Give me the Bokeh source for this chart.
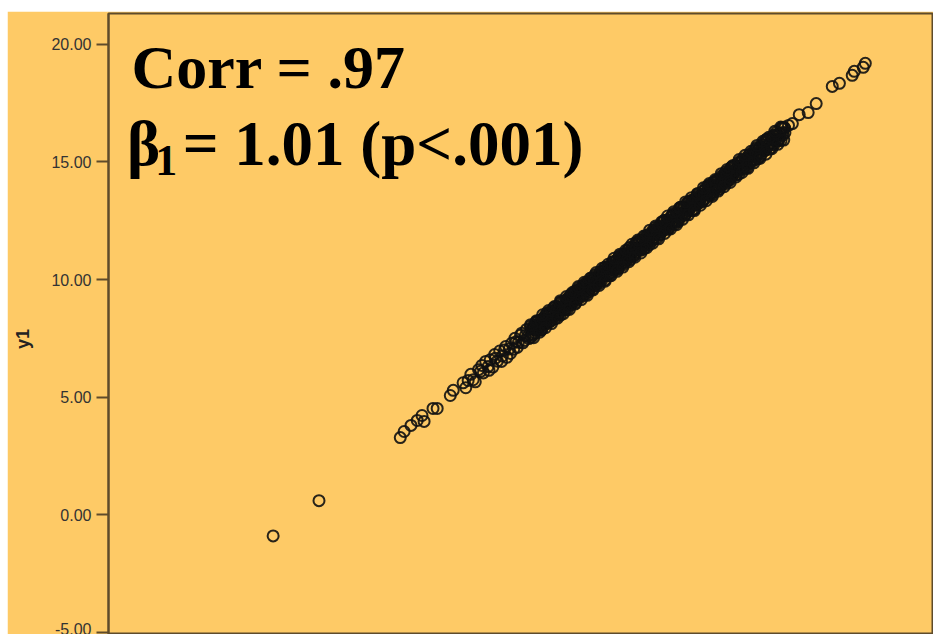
from bokeh.plotting import figure
from bokeh.models import Label, FixedTicker, NumeralTickFormatter, ColumnDataSource
from bokeh.embed import file_html
from bokeh.resources import INLINE

# predictor values (x1) and responses (y1): tails plus the first pass over the core
x_main = [
    -0.89, 0.65,
    3.38, 3.51, 3.74, 3.95, 4.11, 4.18, 4.48, 4.62, 5.06, 5.16,
    5.49, 5.58, 5.66, 5.75, 5.83, 5.90, 6.01, 6.08, 6.17, 6.25, 6.33, 6.40, 6.49, 6.57,
    6.64, 6.72, 6.81, 6.88, 6.96, 7.04, 7.12, 7.19, 7.27, 7.35, 7.42, 7.50, 7.58, 7.66,
    7.75, 7.80, 7.85, 7.90, 7.95, 8.00, 8.05, 8.10, 8.15, 8.20, 8.25, 8.30, 8.35, 8.40,
    8.45, 8.50, 8.55, 8.60, 8.65, 8.70, 8.75, 8.80, 8.85, 8.90, 8.95, 9.00, 9.05, 9.10,
    9.15, 9.20, 9.25, 9.30, 9.35, 9.40, 9.45, 9.50, 9.55, 9.60, 9.65, 9.70, 9.75, 9.80,
    9.85, 9.90, 9.95, 10.00, 10.05, 10.10, 10.15, 10.20, 10.25, 10.30, 10.35, 10.40,
    10.45, 10.50, 10.55, 10.60, 10.65, 10.70, 10.75, 10.80, 10.85, 10.90, 10.95, 11.00,
    11.05, 11.10, 11.15, 11.20, 11.25, 11.30, 11.35, 11.40, 11.45, 11.50, 11.55, 11.60,
    11.65, 11.70, 11.75, 11.80, 11.85, 11.90, 11.95, 12.00, 12.05, 12.10, 12.15, 12.20,
    12.25, 12.30, 12.35, 12.40, 12.45, 12.50, 12.55, 12.60, 12.65, 12.70, 12.75, 12.80,
    12.85, 12.90, 12.95, 13.00, 13.05, 13.10, 13.15, 13.20, 13.25, 13.30, 13.35, 13.40,
    13.45, 13.50, 13.55, 13.60, 13.65, 13.70, 13.75, 13.80, 13.85, 13.90, 13.95, 14.00,
    14.05, 14.10, 14.15, 14.20, 14.25, 14.30, 14.35, 14.40, 14.45, 14.50, 14.55, 14.60,
    14.65, 14.70, 14.75, 14.80, 14.85, 14.90, 14.95, 15.00,
    15.06, 15.12, 15.20, 15.25, 15.33, 15.40, 15.46, 15.55, 15.61, 15.70, 15.78, 15.84,
    15.93, 16.02, 16.10, 16.21, 16.30, 16.42,
    16.55, 16.78, 17.08, 17.35, 17.89, 18.13, 18.56, 18.63, 18.93, 19.00,
]
y_main = [
    -0.90, 0.60,
    3.28, 3.54, 3.80, 4.01, 4.22, 3.97, 4.52, 4.52, 5.07, 5.29,
    5.61, 5.40, 5.71, 5.97, 5.74, 5.65, 6.17, 6.10, 6.03, 6.52, 6.30, 6.59, 6.28, 6.65,
    6.53, 6.96, 6.75, 7.01, 6.69, 7.05, 7.29, 7.04, 7.36, 7.33, 7.63, 7.31, 7.62, 7.58,
    8.01, 7.68, 7.97, 7.72, 8.00, 8.22, 7.96, 7.85, 8.31, 8.22, 8.11, 8.57, 8.32, 8.59,
    8.24, 8.58, 8.44, 8.84, 8.59, 8.83, 8.48, 8.81, 9.02, 8.75, 9.04, 8.98, 9.26, 8.91,
    9.19, 9.12, 9.51, 9.18, 9.47, 9.22, 9.50, 9.72, 9.46, 9.35, 9.81, 9.72, 9.61, 10.07,
    9.82, 10.09, 9.74, 10.08, 9.94, 10.34, 10.09, 10.33, 9.98, 10.31, 10.52, 10.25,
    10.54, 10.48, 10.76, 10.41, 10.69, 10.62, 11.01, 10.68, 10.97, 10.72, 11.00, 11.22,
    10.96, 10.85, 11.31, 11.22, 11.11, 11.57, 11.32, 11.59, 11.24, 11.58, 11.44, 11.84,
    11.59, 11.83, 11.48, 11.81, 12.02, 11.75, 12.04, 11.98, 12.26, 11.91, 12.19, 12.12,
    12.51, 12.18, 12.47, 12.22, 12.50, 12.72, 12.46, 12.35, 12.81, 12.72, 12.61, 13.07,
    12.82, 13.09, 12.74, 13.08, 12.94, 13.34, 13.09, 13.33, 12.98, 13.31, 13.52, 13.25,
    13.54, 13.48, 13.76, 13.41, 13.69, 13.62, 14.01, 13.68, 13.97, 13.72, 14.00, 14.22,
    13.96, 13.85, 14.31, 14.22, 14.11, 14.57, 14.32, 14.59, 14.24, 14.58, 14.44, 14.84,
    14.59, 14.83, 14.48, 14.81, 15.02, 14.75, 15.04, 14.98,
    15.18, 14.94, 15.25, 15.47, 15.24, 15.15, 15.62, 15.57, 15.47, 15.97, 15.75, 16.03,
    15.72, 16.10, 15.99, 16.45, 16.24, 16.55,
    16.63, 17.01, 17.10, 17.48, 18.21, 18.34, 18.68, 18.85, 19.02, 19.19,
]

# extra cases in the lower, thinner stretch of the band
x_lower = [6.12, 6.36, 6.55, 6.78, 6.92, 7.08, 7.23, 7.31, 7.46, 7.55, 7.62, 7.70]
y_lower = [6.35, 6.14, 6.81, 6.52, 7.15, 6.86, 7.50, 7.12, 7.72, 7.41, 7.88, 7.49]

# second pass over the dense core
x_core_a = [
    7.77, 7.82, 7.87, 7.92, 7.97, 8.02, 8.07, 8.12, 8.17, 8.22, 8.27, 8.32, 8.37, 8.42,
    8.47, 8.52, 8.57, 8.62, 8.67, 8.72, 8.77, 8.82, 8.87, 8.92, 8.97, 9.02, 9.07, 9.12,
    9.17, 9.22, 9.27, 9.32, 9.37, 9.42, 9.47, 9.52, 9.57, 9.62, 9.67, 9.72, 9.77, 9.82,
    9.87, 9.92, 9.97, 10.02, 10.07, 10.12, 10.17, 10.22, 10.27, 10.32, 10.37, 10.42,
    10.47, 10.52, 10.57, 10.62, 10.67, 10.72, 10.77, 10.82, 10.87, 10.92, 10.97, 11.02,
    11.07, 11.12, 11.17, 11.22, 11.27, 11.32, 11.37, 11.42, 11.47, 11.52, 11.57, 11.62,
    11.67, 11.72, 11.77, 11.82, 11.87, 11.92, 11.97, 12.02, 12.07, 12.12, 12.17, 12.22,
    12.27, 12.32, 12.37, 12.42, 12.47, 12.52, 12.57, 12.62, 12.67, 12.72, 12.77, 12.82,
    12.87, 12.92, 12.97, 13.02, 13.07, 13.12, 13.17, 13.22, 13.27, 13.32, 13.37, 13.42,
    13.47, 13.52, 13.57, 13.62, 13.67, 13.72, 13.77, 13.82, 13.87, 13.92, 13.97, 14.02,
    14.07, 14.12, 14.17, 14.22, 14.27, 14.32, 14.37, 14.42, 14.47, 14.52, 14.57, 14.62,
    14.67, 14.72, 14.77, 14.82, 14.87, 14.92, 14.97, 15.02, 15.07, 15.12, 15.17, 15.22,
    15.27, 15.32, 15.37, 15.42, 15.47, 15.52, 15.57, 15.62, 15.67, 15.72, 15.77, 15.82,
    15.87, 15.92, 15.97, 16.02, 16.07, 16.12, 16.17, 16.22, 16.27,
]
y_core_a = [
    7.55, 7.89, 8.05, 7.88, 8.22, 7.86, 8.17, 7.86, 8.20, 8.42, 8.17, 8.46, 8.18, 8.65,
    8.46, 8.63, 8.33, 8.68, 8.83, 8.59, 9.05, 8.75, 8.87, 8.70, 9.04, 9.20, 9.03, 9.37,
    9.01, 9.32, 9.01, 9.35, 9.57, 9.32, 9.61, 9.33, 9.80, 9.61, 9.78, 9.48, 9.83, 9.98,
    9.74, 10.20, 9.90, 10.02, 9.85, 10.19, 10.35, 10.18, 10.52, 10.16, 10.47, 10.16,
    10.50, 10.72, 10.47, 10.76, 10.48, 10.95, 10.76, 10.93, 10.63, 10.98, 11.13, 10.89,
    11.35, 11.05, 11.17, 11.00, 11.34, 11.50, 11.33, 11.67, 11.31, 11.62, 11.31, 11.65,
    11.87, 11.62, 11.91, 11.63, 12.10, 11.91, 12.08, 11.78, 12.13, 12.28, 12.04, 12.50,
    12.20, 12.32, 12.15, 12.49, 12.65, 12.48, 12.82, 12.46, 12.77, 12.46, 12.80, 13.02,
    12.77, 13.06, 12.78, 13.25, 13.06, 13.23, 12.93, 13.28, 13.43, 13.19, 13.65, 13.35,
    13.47, 13.30, 13.64, 13.80, 13.63, 13.97, 13.61, 13.92, 13.61, 13.95, 14.17, 13.92,
    14.21, 13.93, 14.40, 14.21, 14.38, 14.08, 14.43, 14.58, 14.34, 14.80, 14.50, 14.62,
    14.45, 14.79, 14.95, 14.78, 15.12, 14.76, 15.07, 14.76, 15.10, 15.32, 15.07, 15.36,
    15.08, 15.55, 15.36, 15.53, 15.23, 15.58, 15.73, 15.49, 15.95, 15.65, 15.77, 15.60,
    15.94, 16.10, 15.93, 16.27, 15.91, 16.22, 15.91, 16.25, 16.47,
]

# third pass over the dense core
x_core_b = [
    7.79, 7.84, 7.89, 7.94, 7.99, 8.04, 8.09, 8.14, 8.19, 8.24, 8.29, 8.34, 8.39, 8.44,
    8.49, 8.54, 8.59, 8.64, 8.69, 8.74, 8.79, 8.84, 8.89, 8.94, 8.99, 9.04, 9.09, 9.14,
    9.19, 9.24, 9.29, 9.34, 9.39, 9.44, 9.49, 9.54, 9.59, 9.64, 9.69, 9.74, 9.79, 9.84,
    9.89, 9.94, 9.99, 10.04, 10.09, 10.14, 10.19, 10.24, 10.29, 10.34, 10.39, 10.44,
    10.49, 10.54, 10.59, 10.64, 10.69, 10.74, 10.79, 10.84, 10.89, 10.94, 10.99, 11.04,
    11.09, 11.14, 11.19, 11.24, 11.29, 11.34, 11.39, 11.44, 11.49, 11.54, 11.59, 11.64,
    11.69, 11.74, 11.79, 11.84, 11.89, 11.94, 11.99, 12.04, 12.09, 12.14, 12.19, 12.24,
    12.29, 12.34, 12.39, 12.44, 12.49, 12.54, 12.59, 12.64, 12.69, 12.74, 12.79, 12.84,
    12.89, 12.94, 12.99, 13.04, 13.09, 13.14, 13.19, 13.24, 13.29, 13.34, 13.39, 13.44,
    13.49, 13.54, 13.59, 13.64, 13.69, 13.74, 13.79, 13.84, 13.89, 13.94, 13.99, 14.04,
    14.09, 14.14, 14.19, 14.24, 14.29, 14.34, 14.39, 14.44, 14.49, 14.54, 14.59, 14.64,
    14.69, 14.74, 14.79, 14.84, 14.89, 14.94, 14.99, 15.04, 15.09, 15.14, 15.19, 15.24,
    15.29, 15.34, 15.39, 15.44, 15.49, 15.54, 15.59, 15.64, 15.69, 15.74, 15.79, 15.84,
    15.89, 15.94, 15.99, 16.04, 16.09, 16.14, 16.19, 16.24, 16.29,
]
y_core_b = [
    7.94, 7.64, 7.91, 8.18, 7.87, 8.01, 8.28, 7.89, 8.28, 8.09, 8.50, 8.28, 8.51, 8.26,
    8.53, 8.81, 8.50, 8.79, 8.49, 8.76, 9.03, 8.72, 8.86, 9.13, 8.74, 9.13, 8.94, 9.35,
    9.13, 9.36, 9.11, 9.38, 9.66, 9.35, 9.64, 9.34, 9.61, 9.88, 9.57, 9.71, 9.98, 9.59,
    9.98, 9.79, 10.20, 9.98, 10.21, 9.96, 10.23, 10.51, 10.20, 10.49, 10.19, 10.46,
    10.73, 10.42, 10.56, 10.83, 10.44, 10.83, 10.64, 11.05, 10.83, 11.06, 10.81, 11.08,
    11.36, 11.05, 11.34, 11.04, 11.31, 11.58, 11.27, 11.41, 11.68, 11.29, 11.68, 11.49,
    11.90, 11.68, 11.91, 11.66, 11.93, 12.21, 11.90, 12.19, 11.89, 12.16, 12.43, 12.12,
    12.26, 12.53, 12.14, 12.53, 12.34, 12.75, 12.53, 12.76, 12.51, 12.78, 13.06, 12.75,
    13.04, 12.74, 13.01, 13.28, 12.97, 13.11, 13.38, 12.99, 13.38, 13.19, 13.60, 13.38,
    13.61, 13.36, 13.63, 13.91, 13.60, 13.89, 13.59, 13.86, 14.13, 13.82, 13.96, 14.23,
    13.84, 14.23, 14.04, 14.45, 14.23, 14.46, 14.21, 14.48, 14.76, 14.45, 14.74, 14.44,
    14.71, 14.98, 14.67, 14.81, 15.08, 14.69, 15.08, 14.89, 15.30, 15.08, 15.31, 15.06,
    15.33, 15.61, 15.30, 15.59, 15.29, 15.56, 15.83, 15.52, 15.66, 15.93, 15.54, 15.93,
    15.74, 16.15, 15.93, 16.16, 15.91, 16.18, 16.46, 16.15, 16.44,
]

# cases along the outer edges of the core
x_edge = [
    7.76, 7.86, 7.96, 8.06, 8.16, 8.26, 8.36, 8.46, 8.56, 8.66, 8.76, 8.86, 8.96, 9.06,
    9.16, 9.26, 9.36, 9.46, 9.56, 9.66, 9.76, 9.86, 9.96, 10.06, 10.16, 10.26, 10.36,
    10.46, 10.56, 10.66, 10.76, 10.86, 10.96, 11.06, 11.16, 11.26, 11.36, 11.46, 11.56,
    11.66, 11.76, 11.86, 11.96, 12.06, 12.16, 12.26, 12.36, 12.46, 12.56, 12.66, 12.76,
    12.86, 12.96, 13.06, 13.16, 13.26, 13.36, 13.46, 13.56, 13.66, 13.76, 13.86, 13.96,
    14.06, 14.16, 14.26, 14.36, 14.46, 14.56, 14.66, 14.76, 14.86, 14.96, 15.06, 15.16,
    15.26, 15.36, 15.46, 15.56, 15.66, 15.76, 15.86, 15.96, 16.06, 16.16, 16.26,
]
y_edge = [
    8.08, 7.53, 8.25, 7.76, 8.50, 7.95, 8.68, 8.13, 8.85, 8.36, 9.10, 8.55, 9.28, 8.73,
    9.45, 8.96, 9.70, 9.15, 9.88, 9.33, 10.05, 9.56, 10.30, 9.75, 10.48, 9.93, 10.65,
    10.16, 10.90, 10.35, 11.08, 10.53, 11.25, 10.76, 11.50, 10.95, 11.68, 11.13, 11.85,
    11.36, 12.10, 11.55, 12.28, 11.73, 12.45, 11.96, 12.70, 12.15, 12.88, 12.33, 13.05,
    12.56, 13.30, 12.75, 13.48, 12.93, 13.65, 13.16, 13.90, 13.35, 14.08, 13.53, 14.25,
    13.76, 14.50, 13.95, 14.68, 14.13, 14.85, 14.36, 15.10, 14.55, 15.28, 14.73, 15.45,
    14.96, 15.70, 15.15, 15.88, 15.33, 16.05, 15.56, 16.30, 15.75, 16.48, 15.93,
]

y_ticks = [-5, 0, 5, 10, 15, 20]
# the trailing no-break spaces push the rotated title a little below the frame centre
y_title = "y1" + "\u00a0" * 6
stat_line1 = "Corr = .97"
stat_beta = "\u03b2"
stat_sub = "1"
stat_rest = "= 1.01 (p<.001)"

BG = "#FECA66"
FRAME = "#5e4b2b"

p = figure(
    width=926, height=623,
    x_range=(-6.42, 21.29), y_range=(-5.09, 21.31),
    output_backend="svg", toolbar_location=None,
    x_axis_location=None,
    min_border_left=101, min_border_top=2, min_border_right=0, min_border_bottom=0,
    background_fill_color=BG, border_fill_color=BG,
    outline_line_color=FRAME, outline_line_width=2,
    margin=(11, 0, 0, 7),
)
p.grid.visible = False

yax = p.yaxis[0]
yax.ticker = FixedTicker(ticks=y_ticks)
yax.formatter = NumeralTickFormatter(format="0.00")
yax.axis_label = y_title
yax.axis_label_text_font = "Liberation Sans"
yax.axis_label_text_font_style = "bold"
yax.axis_label_text_font_size = "18px"
yax.axis_label_text_color = "#222222"
yax.axis_label_standoff = 15
yax.major_label_text_font = "Liberation Sans"
yax.major_label_text_font_size = "16px"
yax.major_label_text_color = "#333333"
yax.major_label_standoff = 5
yax.major_tick_out = 12
yax.major_tick_in = 0
yax.minor_tick_out = 0
yax.minor_tick_in = 0
yax.major_tick_line_color = FRAME
yax.major_tick_line_width = 2
yax.axis_line_color = FRAME
yax.axis_line_width = 2

src = ColumnDataSource(dict(
    x=x_main + x_lower + x_core_a + x_core_b + x_edge,
    y=y_main + y_lower + y_core_a + y_core_b + y_edge,
))
p.scatter("x", "y", source=src, marker="circle", size=11,
          fill_color=None, line_color="#111111", line_width=2.0, line_alpha=0.9)

serif = "Liberation Serif"
p.add_layout(Label(x=-5.65, y=19.02, text=stat_line1, text_font=serif,
                   text_font_style="bold", text_font_size="62px",
                   text_color="black", text_baseline="alphabetic"))
p.add_layout(Label(x=-5.80, y=15.77, text=stat_beta, text_font=serif,
                   text_font_style="bold", text_font_size="63px",
                   text_color="black", text_baseline="alphabetic"))
p.add_layout(Label(x=-4.85, y=15.05, text=stat_sub, text_font=serif,
                   text_font_style="bold", text_font_size="44px",
                   text_color="black", text_baseline="alphabetic"))
p.add_layout(Label(x=-3.93, y=15.77, text=stat_rest, text_font=serif,
                   text_font_style="bold", text_font_size="63px",
                   text_color="black", text_baseline="alphabetic"))

open("out.html", "w").write(file_html(p, INLINE))
